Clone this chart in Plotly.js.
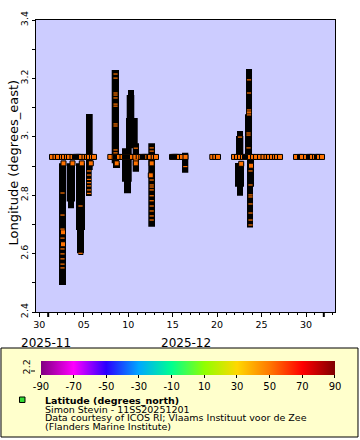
<!DOCTYPE html>
<html><head><meta charset="utf-8">
<script src="https://cdn.plot.ly/plotly-3.0.1.min.js"></script>
<style>html,body{margin:0;padding:0;background:#fff}#chart{width:360px;height:440px}</style>
</head><body><div id="chart"></div>
<script>
// Time values are days since 2025-12-01 00:00 UTC
const trackStart  = [1.216, 2.082, 2.228, 3.128, 3.241, 3.387, 4.253, 4.253, 7.144, 7.290, 8.977, 8.831, 8.752, 8.303, 8.528, 9.506, 11.261, 15.052, 22.251, 22.138, 22.363, 22.363, 21.238, 21.126, 21.013, 21.238];
const trackEnd    = [2.003, 3.016, 2.903, 4.141, 4.028, 3.950, 5.007, 4.894, 7.965, 8.078, 9.652, 9.686, 10.069, 9.394, 9.315, 10.215, 12.015, 15.760, 22.926, 22.926, 23.151, 23.038, 21.913, 21.947, 22.026, 21.913];
const trackLonMin = [2.4925, 2.778, 2.755, 2.681, 2.601, 2.595, 2.886, 2.797, 2.909, 2.893, 3.143, 3.064, 2.961, 2.846, 2.807, 2.880, 2.692, 2.877, 3.077, 2.932, 2.829, 2.689, 3.003, 2.932, 2.829, 2.798];
const trackLonMax = [2.909, 2.909, 2.778, 2.909, 2.681, 2.601, 3.078, 2.886, 3.229, 2.909, 3.160, 3.143, 3.064, 2.961, 2.846, 2.978, 2.978, 2.945, 3.232, 3.077, 2.921, 2.829, 3.020, 3.003, 2.910, 2.829];

// In-port records (Oostende)
const portTimes = [0.429, 0.822, 1.103, 1.553, 1.778, 2.116, 2.341, 2.735, 3.016, 3.128, 3.241, 3.353, 3.466, 3.578, 3.691, 4.084, 4.366, 4.591, 4.928, 5.153,
  6.986, 7.481, 7.628, 7.740, 7.853, 7.965, 8.359, 8.640, 8.753, 8.865, 8.978, 9.090, 9.203, 9.315, 9.428, 9.799, 10.181, 10.474, 10.665, 10.777, 10.890, 11.002, 11.115, 11.306, 11.452, 11.868, 12.127,
  13.927, 14.039, 14.152, 14.264, 14.377, 14.489, 14.602, 14.714, 15.052, 15.446,
  18.460, 18.797, 19.101,
  20.901, 21.238, 21.576, 21.913, 22.138, 22.251, 22.363, 22.476, 22.588, 22.701, 23.038, 23.376, 23.826, 24.219, 24.557, 24.838, 25.176, 25.513, 25.738, 26.076,
  27.875, 28.325, 28.437, 28.550, 29.000, 29.337, 29.450, 29.562, 29.675, 30.012, 30.237, 30.350, 30.462, 30.800];
const portLon = 2.931;

// Fully visible records
const pointTimes = [1.722, 2.735, 3.781, 4.793, 1.666, 1.666, 7.706, 9.855, 11.643, 11.542, 22.813, 21.711];
const pointLons  = [2.909, 2.909, 2.909, 2.909, 2.673, 2.632, 2.909, 2.909, 2.909, 2.868, 2.901, 2.9075];

// Partly visible records inside the tracks
const dashTimes = [1.610,1.610,1.610,1.610,1.610,1.610,1.610,1.610,1.610, 3.636,3.636,
  4.591,4.591,4.591,4.591,4.591,4.591,4.591,
  7.573,7.573,7.573,7.573,7.573,7.573,7.573,7.573,7.573,7.573,7.573,
  9.855,9.855,
  11.643,11.643,11.643,11.643,11.643,11.643,11.643,11.643,11.643,11.643,11.643,11.643,
  15.422,
  22.588,22.588,22.588,22.588,22.588,22.588,
  22.532,22.532,22.532,
  22.757,22.757,22.757,22.757,22.757,22.757,22.757,22.757,
  21.576];
const dashLons = [2.8075,2.732,2.684,2.653,2.616,2.599,2.582,2.564,2.551, 2.763,2.601,
  2.883,2.869,2.854,2.843,2.832,2.818,2.806,
  3.215,3.201,3.150,3.143,3.133,3.112,3.105,3.044,3.037,2.955,2.945,
  2.961,2.921,
  2.962,2.951,2.852,2.835,2.828,2.818,2.798,2.781,2.763,2.746,2.729,2.715,
  2.898,
  3.195,3.150,3.092,3.085,3.082,3.075,
  3.013,3.006,2.962,
  2.883,2.835,2.801,2.794,2.770,2.739,2.715,2.698,
  2.999];

const latitude = 51.23;   // degrees_north (all records near the Belgian coast)
const monthStarts = [0, 31];
const monthLabels = ['2025-11', '2025-12'];
const yTickVals = [2.4, 2.6, 2.8, 3.0, 3.2, 3.4];
const yTickLabels = ['2.4', '2.6', '2.8', '3.', '3.2', '3.4'];
const colorTickVals = [-90, -70, -50, -30, -10, 10, 30, 50, 70, 90];
const xRangeDays = [-1.371, 32.26];
const yTitle = 'Longitude (degrees_east)';
const legendLines = ['<b>Latitude (degrees_north)</b>', 'Simon Stevin - 11SS20251201', 'Data courtesy of ICOS RI; Vlaams Instituut voor de Zee', '(Flanders Marine Institute)'];

const DAY = 86400000;
const BASE = Date.UTC(2025, 11, 1);
function toDate(d) { return new Date(BASE + d * DAY).toISOString().replace('T', ' ').slice(0, 23); }

const colorscale = [[0,'#800080'],[0.111,'#ff00ff'],[0.222,'#2a00ff'],[0.333,'#00a8ff'],[0.444,'#00ff90'],[0.556,'#90ff00'],[0.667,'#ffd800'],[0.778,'#ff7800'],[0.889,'#ff0000'],[1,'#800000']];
const FONT = 'DejaVu Sans';

// Dense track segments: overlapping markers render as solid black blocks
const tx = [], ty = [];
trackStart.forEach((s, i) => {
  const a = toDate(s), b = toDate(trackEnd[i]);
  tx.push(a, b, b, a, a, null);
  ty.push(trackLonMin[i], trackLonMin[i], trackLonMax[i], trackLonMax[i], trackLonMin[i], null);
});
const tracks = {
  type: 'scatter', mode: 'lines', x: tx, y: ty, fill: 'toself', fillcolor: '#000000',
  line: {color: '#000000', width: 0}, connectgaps: false,
  hoverinfo: 'skip', showlegend: false
};
const port = {
  type: 'scatter', mode: 'markers',
  x: portTimes.map(toDate), y: portTimes.map(() => portLon),
  marker: {symbol: 'square', size: 5, color: portTimes.map(() => latitude), colorscale, cmin: -90, cmax: 90,
    line: {color: 'black', width: 1}, showscale: true,
    colorbar: {orientation: 'h', thickness: 14, thicknessmode: 'pixels', len: 294, lenmode: 'pixels',
      x: 0.0167, xanchor: 'left', y: -0.1678, yanchor: 'top', xpad: 0, ypad: 0, outlinewidth: 0,
      tickmode: 'array', tickvals: colorTickVals, ticktext: colorTickVals.map(String),
      ticks: 'outside', ticklen: 3, tickcolor: 'black', tickfont: {family: FONT, size: 10, color: 'black'}}},
  hoverinfo: 'skip', showlegend: false
};
const points = {
  type: 'scatter', mode: 'markers',
  x: pointTimes.map(toDate), y: pointLons,
  marker: {symbol: 'square', size: 5, color: pointTimes.map(() => latitude), colorscale, cmin: -90, cmax: 90, line: {color: 'black', width: 1}},
  hoverinfo: 'skip', showlegend: false
};
const dashes = {
  type: 'scatter', mode: 'markers',
  x: dashTimes.map(toDate), y: dashLons,
  marker: {symbol: 'line-ew-open', size: 3, color: dashTimes.map(() => latitude), colorscale, cmin: -90, cmax: 90,
    line: {width: 1.2, color: dashTimes.map(() => latitude), colorscale, cmin: -90, cmax: 90}},
  hoverinfo: 'skip', showlegend: false
};

const annotations = [
  {text: yTitle, xref: 'paper', yref: 'paper', x: -0.0769, y: 0.512, xanchor: 'center', yanchor: 'middle', textangle: -90, showarrow: false, font: {family: FONT, size: 13, color: 'black'}},
  {text: monthLabels[0], xref: 'paper', yref: 'paper', x: 0.0334, y: -0.106, xanchor: 'center', yanchor: 'middle', showarrow: false, font: {family: FONT, size: 12, color: 'black'}},
  {text: monthLabels[1], xref: 'paper', yref: 'paper', x: 0.503, y: -0.106, xanchor: 'center', yanchor: 'middle', showarrow: false, font: {family: FONT, size: 12, color: 'black'}},
  {text: '2.2', xref: 'paper', yref: 'paper', x: -0.0318, y: -0.188, xanchor: 'center', yanchor: 'middle', textangle: -90, showarrow: false, font: {family: FONT, size: 9.5, color: 'black'}}
];
const lineY = [-0.3014, -0.3322, -0.3630, -0.3938];
legendLines.forEach((t, i) => annotations.push({text: t, xref: 'paper', yref: 'paper', x: 0.0234, y: lineY[i], xanchor: 'left', yanchor: 'middle', showarrow: false, font: {family: FONT, size: 9.5, color: 'black'}}));

const shapes = [
  {type: 'rect', xref: 'paper', yref: 'paper', x0: -0.1171, x1: 1.0769, y0: -0.1233, y1: -0.4281, fillcolor: '#ffffcc', line: {color: 'black', width: 1}, layer: 'below'},
  {type: 'rect', xref: 'paper', yref: 'paper', x0: -0.0552, x1: -0.0368, y0: -0.2911, y1: -0.3099, fillcolor: '#33dd33', line: {color: 'black', width: 1}, layer: 'above'},
  {type: 'line', xref: 'paper', yref: 'paper', x0: -0.0167, x1: -0.0033, y0: -0.2021, y1: -0.2021, line: {color: 'black', width: 1}}
];
monthStarts.forEach(d => shapes.push({type: 'line', xref: 'x', yref: 'paper', x0: toDate(d), x1: toDate(d), y0: 0, y1: -0.0171, line: {color: 'black', width: 2}}));

const layout = {
  width: 360, height: 440,
  margin: {l: 36, r: 25, t: 20, b: 128, pad: 0},
  paper_bgcolor: 'white', plot_bgcolor: '#ccccff',
  font: {family: FONT, size: 10, color: 'black'},
  xaxis: {type: 'date', range: xRangeDays.map(toDate), tickmode: 'linear', tick0: '2025-11-30', dtick: 5 * DAY, tickformat: '%d',
    ticks: 'outside', ticklen: 4, tickcolor: 'black', showline: true, linecolor: 'black', linewidth: 1, mirror: true,
    showgrid: false, zeroline: false, tickfont: {family: FONT, size: 9.5, color: 'black'},
    minor: {tick0: '2025-11-30', dtick: DAY, ticks: 'outside', ticklen: 2, tickcolor: 'black', showgrid: false}},
  yaxis: {range: [2.4, 3.4], tickmode: 'array', tickvals: yTickVals, ticktext: yTickLabels, tickangle: -90,
    ticks: 'outside', ticklen: 3, tickcolor: 'black', showline: true, linecolor: 'black', linewidth: 1, mirror: true,
    showgrid: false, zeroline: false, tickfont: {family: FONT, size: 9.5, color: 'black'},
    minor: {tick0: 2.4, dtick: 0.1, ticks: 'outside', ticklen: 3, tickcolor: 'black', showgrid: false}},
  annotations, shapes, showlegend: false
};

Plotly.newPlot('chart', [tracks, port, points, dashes], layout, {displayModeBar: false, staticPlot: true});
</script></body></html>
